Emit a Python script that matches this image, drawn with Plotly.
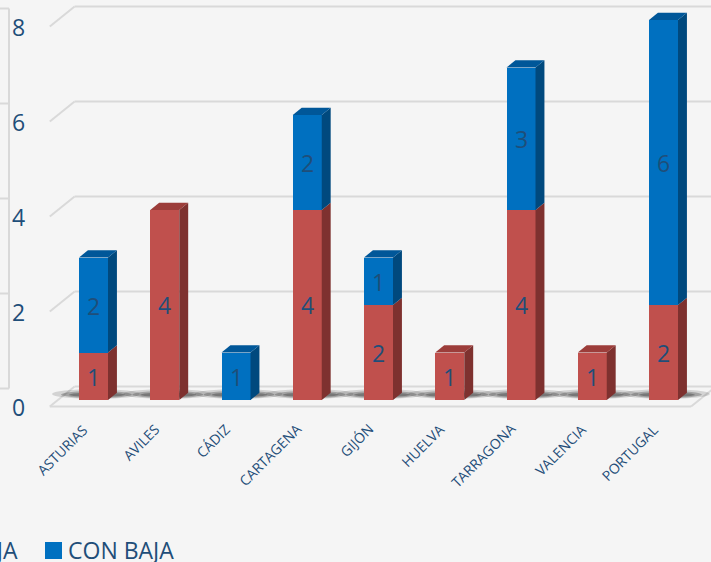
import plotly.graph_objects as go

# ---- data ----
categories = ["ASTURIAS", "AVILES", "CÁDIZ", "CARTAGENA", "GIJÓN",
              "HUELVA", "TARRAGONA", "VALENCIA", "PORTUGAL"]
sin_baja = [1, 4, 0, 4, 2, 1, 4, 1, 2]
con_baja = [2, 0, 1, 2, 1, 0, 3, 0, 6]
series_names = ["SIN BAJA", "CON BAJA"]
y_ticks = [0, 2, 4, 6, 8]
y_tick_labels = ["0", "2", "4", "6", "8"]

# ---- styling ----
W, H = 711, 562
BG = "#F5F5F5"
GRID = "#D9D9D9"
TXT = "#1F4E79"
FONT = "Open Sans"
RED = ("#C0504D", "#7E312F", "#9C3D3A")    # front, side, top
BLUE = ("#0070C0", "#00497E", "#005799")

# pixel geometry of the pseudo-3D projection
CAT_PX = 71.25      # px per category step
UNIT_PX = 47.5      # px per value unit
ORIGIN_X = 93.5     # px of first category centre
ORIGIN_Y = 400.0    # px of value 0 on the bar front plane
SLANT = 1.24        # horizontal px per vertical px of depth
WALL_FRONT = -6.5   # depth of the floor front edge
WALL_BACK = 13.5    # depth of the back wall
BAR_DEPTH = 7.2     # depth of each column
AXIS_DEPTH = 11.5
BAR_W = 0.407


def px_x(p):
    return (p - ORIGIN_X) / CAT_PX


def px_y(p):
    return (ORIGIN_Y - p) / UNIT_PX


def ddx(d):
    return d * SLANT / CAT_PX


def ddy(d):
    return d / UNIT_PX


n = len(categories)
xs = list(range(n))
x_left, x_right = -0.5, n - 0.5

shapes = []


def line(x0, y0, x1, y1, color=GRID, width=2, layer="below"):
    shapes.append(dict(type="line", xref="x", yref="y", x0=x0, y0=y0, x1=x1, y1=y1,
                       line=dict(color=color, width=width), layer=layer))


def poly(pts, color, layer="above"):
    path = "M " + " L ".join(f"{a},{b}" for a, b in pts) + " Z"
    shapes.append(dict(type="path", xref="x", yref="y", path=path,
                       fillcolor=color, line=dict(width=0), layer=layer))


# back wall gridlines and side-wall diagonals
x_far = px_x(W + 5)
for t in y_ticks:
    yb = t + ddy(WALL_BACK)
    yf = t + ddy(WALL_FRONT)
    line(x_left + ddx(WALL_BACK), yb, x_far, yb)
    line(x_left + ddx(WALL_FRONT), yf, x_left + ddx(WALL_BACK), yb)

# floor outline
yf0 = ddy(WALL_FRONT)
yb0 = ddy(WALL_BACK)
line(x_left + ddx(WALL_FRONT), yf0, x_right + ddx(WALL_FRONT), yf0)
line(x_right + ddx(WALL_FRONT), yf0, x_right + ddx(WALL_BACK), yb0)

# vertical axis line with outward ticks
ax_x = px_x(9)
line(ax_x, ddy(AXIS_DEPTH), ax_x, y_ticks[-1] + ddy(AXIS_DEPTH))
for t in y_ticks:
    line(px_x(0), t + ddy(AXIS_DEPTH), ax_x, t + ddy(AXIS_DEPTH))

# soft shadows at the foot of each column (layered ellipses)
for i in xs:
    xl = i - BAR_W / 2
    xr = i + BAR_W / 2 + ddx(BAR_DEPTH)
    for ext_l, ext_r, lo, hi, op in [(27, 23, 1.0, 11.0, 0.16),
                                     (18, 15, 2.0, 9.0, 0.28),
                                     (10, 8, 3.0, 7.5, 0.35)]:
        shapes.append(dict(type="circle", xref="x", yref="y",
                           x0=xl - ext_l / CAT_PX, x1=xr + ext_r / CAT_PX,
                           y0=lo / UNIT_PX, y1=hi / UNIT_PX,
                           fillcolor="#262626", opacity=op, line=dict(width=0), layer="below"))

# side and top faces of the stacked columns
dx, dy = ddx(BAR_DEPTH), ddy(BAR_DEPTH)
for i in xs:
    xl = i - BAR_W / 2
    xr = i + BAR_W / 2
    base = 0
    segs = [(sin_baja[i], RED), (con_baja[i], BLUE)]
    top_col = None
    for v, col in segs:
        if v <= 0:
            continue
        b, t = base, base + v
        poly([(xr, b), (xr + dx, b + dy), (xr + dx, t + dy), (xr, t)], col[1])
        base = t
        top_col = col
    if top_col is not None:
        poly([(xl, base), (xl + dx, base + dy), (xr + dx, base + dy), (xr, base)], top_col[2])

fig = go.Figure()
for name, vals, col in [(series_names[0], sin_baja, RED), (series_names[1], con_baja, BLUE)]:
    fig.add_trace(go.Bar(
        x=xs, y=vals, name=name, width=BAR_W,
        marker=dict(color=col[0], line=dict(width=0)),
        text=[str(v) if v else "" for v in vals],
        textposition="inside", insidetextanchor="middle", textangle=0,
        textfont=dict(size=23, color=TXT, family=FONT),
        showlegend=False, hoverinfo="skip",
    ))

annotations = []
# value axis labels
for t, lab in zip(y_ticks, y_tick_labels):
    annotations.append(dict(x=px_x(18), y=t + ddy(WALL_FRONT), xref="x", yref="y",
                            text=lab, showarrow=False, xanchor="center", yanchor="middle",
                            font=dict(size=23, color=TXT, family=FONT)))
# category labels
for i, c in zip(xs, categories):
    annotations.append(dict(x=i + 1 / CAT_PX, y=px_y(417), xref="x", yref="y",
                            text=c, showarrow=False, textangle=-45,
                            xanchor="right", yanchor="top",
                            font=dict(size=14, color=TXT, family=FONT)))

# legend drawn as swatches and labels along the bottom
legend_items = [(series_names[0], RED[0], -118, 20), (series_names[1], BLUE[0], 45, 66)]
for name, col, sq_px, txt_px in legend_items:
    shapes.append(dict(type="rect", xref="paper", yref="paper",
                       x0=sq_px / W, x1=(sq_px + 17) / W,
                       y0=1 - 559 / H, y1=1 - 542 / H,
                       fillcolor=col, line=dict(width=0)))
for name, col, sq_px, txt_px in legend_items:
    annotations.append(dict(x=txt_px / W, y=1 - 550 / H, xref="paper", yref="paper",
                            text=name, showarrow=False,
                            xanchor="right" if sq_px < 0 else "left", yanchor="middle",
                            font=dict(size=23, color=TXT, family=FONT)))

fig.update_layout(
    width=W, height=H,
    margin=dict(l=0, r=0, t=0, b=0, pad=0, autoexpand=False),
    paper_bgcolor=BG, plot_bgcolor=BG,
    barmode="stack", bargap=0,
    xaxis=dict(range=[px_x(0), px_x(W)], visible=False, fixedrange=True),
    yaxis=dict(range=[px_y(H), px_y(0)], visible=False, fixedrange=True),
    shapes=shapes, annotations=annotations,
    font=dict(family=FONT, color=TXT),
    showlegend=False,
)

fig.write_html("out.html")
